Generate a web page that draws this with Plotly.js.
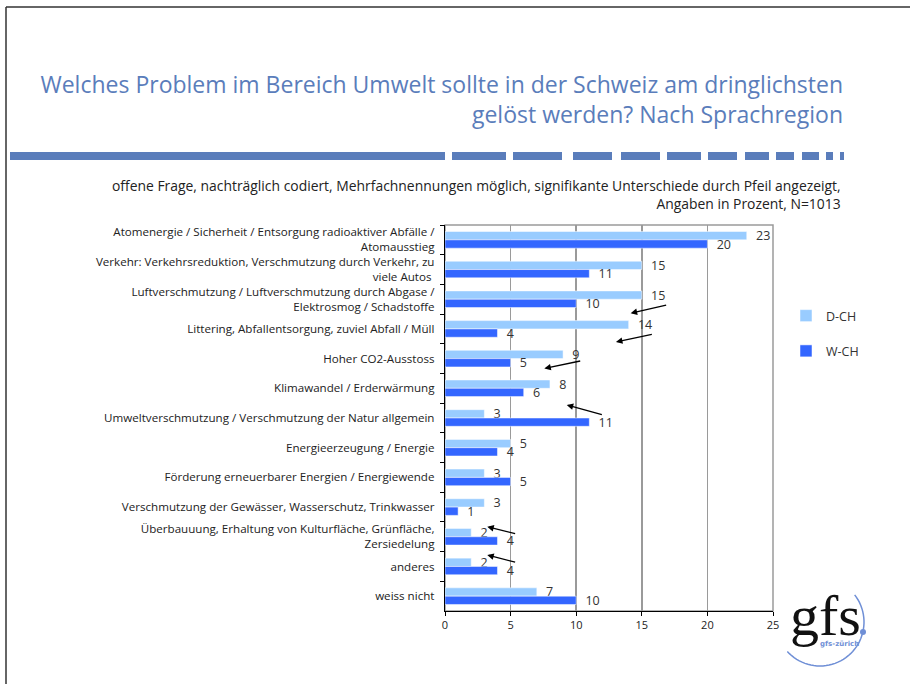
<!DOCTYPE html>
<html>
<head>
<meta charset="utf-8">
<script src="https://cdn.plot.ly/plotly-3.0.1.min.js"></script>
<style>html,body{margin:0;padding:0;background:#fff;}</style>
</head>
<body>
<div id="chart" style="width:910px;height:684px;"></div>
<script>
// ---- data ----
const categories = [
  "Atomenergie / Sicherheit / Entsorgung radioaktiver Abfälle /<br>Atomausstieg",
  "Verkehr: Verkehrsreduktion, Verschmutzung durch Verkehr, zu<br>viele Autos ",
  "Luftverschmutzung / Luftverschmutzung durch Abgase /<br>Elektrosmog / Schadstoffe",
  "Littering, Abfallentsorgung, zuviel Abfall / Müll",
  "Hoher CO2-Ausstoss",
  "Klimawandel / Erderwärmung",
  "Umweltverschmutzung / Verschmutzung der Natur allgemein",
  "Energieerzeugung / Energie",
  "Förderung erneuerbarer Energien / Energiewende",
  "Verschmutzung der Gewässer, Wasserschutz, Trinkwasser",
  "Überbauuung, Erhaltung von Kulturfläche, Grünfläche,<br>Zersiedelung",
  "anderes",
  "weiss nicht"
];
const dch = [23, 15, 15, 14, 9, 8, 3, 5, 3, 3, 2, 2, 7];
const wch = [20, 11, 10, 4, 5, 6, 11, 4, 5, 1, 4, 4, 10];
const xTicks = [0, 5, 10, 15, 20, 25];
// significance arrows: [headX, headCatIndex, tailX, tailCatIndex]
const arrowHeads = [
  [14.15, 2.47, 16.97, 2.19],
  [13.03, 3.44, 15.88, 3.17],
  [7.57, 4.33, 10.42, 4.07],
  [9.28, 5.56, 12.07, 5.90],
  [3.22, 9.66, 5.46, 9.91],
  [3.22, 10.61, 5.46, 10.87]
];

// ---- layout helpers ----
const W = 910, H = 684;
const mL = 445, mR = 137, mT = 225, mB = 73;
const pw = W - mL - mR, ph = H - mT - mB;
const px = x => (x - mL) / pw;
const py = y => (H - mB - y) / ph;

const titleBlue = '#5a7dbb';
const shapes = [];
// slide frame
shapes.push({type:'line', xref:'paper', yref:'paper', x0:px(6), x1:px(6), y0:py(7), y1:py(684), line:{color:'#333', width:1.5}});
shapes.push({type:'line', xref:'paper', yref:'paper', x0:px(6), x1:px(910), y0:py(7), y1:py(7), line:{color:'#333', width:1.5}});
// decorative dashed band
const band = [[10,445],[452,506],[513,562],[573,612],[621,660],[667,701],[708,737],[745,769],[776,794],[802,819],[826,833],[840,844]];
band.forEach(s => shapes.push({type:'rect', xref:'paper', yref:'paper', x0:px(s[0]), x1:px(s[1]), y0:py(160), y1:py(152), line:{width:0}, fillcolor:titleBlue}));
// plot area frame (gray)
shapes.push({type:'rect', xref:'paper', yref:'paper', x0:0, x1:1, y0:0, y1:1, line:{color:'#9a9a9a', width:1.5}, layer:'below'});
// logo arc
let pts = [];
for (let a = 222; a <= 398; a += 4) {
  const r = a * Math.PI / 180;
  const X = 820 + 44 * Math.cos(r), Y = 622 - 44 * Math.sin(r);
  pts.push((pts.length ? 'L' : 'M') + px(X).toFixed(4) + ',' + py(Y).toFixed(4));
}
shapes.push({type:'path', xref:'paper', yref:'paper', path: pts.join(' '), line:{color:'#6f8fd6', width:1.5}});
shapes.push({type:'circle', xref:'paper', yref:'paper', x0:px(860), x1:px(866), y0:py(635), y1:py(629), line:{width:0}, fillcolor:'#6f8fd6'});

const annotations = [];
annotations.push({xref:'paper', yref:'paper', x:px(843), y:py(174), xanchor:'right', yanchor:'top', align:'right', showarrow:false,
  text:'offene Frage, nachträglich codiert, Mehrfachnennungen möglich, signifikante Unterschiede durch Pfeil angezeigt,<br>Angaben in Prozent, N=1013',
  font:{family:'Open Sans, sans-serif', size:13.9, color:'#222'}});
arrowHeads.forEach(a => annotations.push({x:a[0], y:a[1], ax:a[2], ay:a[3], xref:'x', yref:'y', axref:'x', ayref:'y',
  text:'', showarrow:true, arrowhead:2, arrowsize:1, arrowwidth:1.3, arrowcolor:'#000'}));
annotations.push({xref:'paper', yref:'paper', x:px(825), y:py(615), xanchor:'center', yanchor:'middle', showarrow:false,
  text:'gfs', font:{family:'Liberation Serif, serif', size:58, color:'#111'}});
annotations.push({xref:'paper', yref:'paper', x:px(839), y:py(644), xanchor:'center', yanchor:'middle', showarrow:false,
  text:'<b>gfs-zürich</b>', font:{family:'DejaVu Sans, sans-serif', size:7, color:'#6f8fd6'}});

const textFont = {family:'Open Sans, sans-serif', size:12.5, color:'#333'};
const traces = [
  {type:'bar', orientation:'h', name:'D-CH', y:categories, x:dch, texttemplate:'\u2002%{x}', textposition:'outside', constraintext:'none',
   textfont:textFont, cliponaxis:false, marker:{color:'#99ccff', line:{color:'#ffffff', width:0.5}}, legendgroup:'a', hoverinfo:'x+name'},
  {type:'bar', orientation:'h', name:'W-CH', y:categories, x:wch, texttemplate:'\u2002%{x}', textposition:'outside', constraintext:'none',
   textfont:textFont, cliponaxis:false, marker:{color:'#3366ff', line:{color:'#ffffff', width:0.5}}, legendgroup:'b', hoverinfo:'x+name'}
];

const layout = {
  width: W, height: H,
  margin: {l:mL, r:mR, t:mT, b:mB, pad:0},
  paper_bgcolor:'#fff', plot_bgcolor:'#fff',
  title: {text:'Welches Problem im Bereich Umwelt sollte in der Schweiz am dringlichsten<br>gelöst werden? Nach Sprachregion',
    xref:'container', yref:'container', x:843/W, y:1-93/H, xanchor:'right', yanchor:'top', align:'right',
    font:{family:'Open Sans, sans-serif', size:23, color:titleBlue}},
  barmode:'group', bargap:0.44, bargroupgap:0,
  xaxis: {range:[0,25], tickvals:xTicks, ticktext:xTicks.map(String), showgrid:true, gridcolor:'#9a9a9a', gridwidth:1.5,
    zeroline:false, showline:true, linecolor:'#000', linewidth:1.2, ticks:'outside', ticklen:4, tickcolor:'#000',
    tickfont:{family:'Open Sans, sans-serif', size:11, color:'#222'}, fixedrange:true},
  yaxis: {type:'category', autorange:'reversed', showline:true, linecolor:'#000', linewidth:1.2, ticks:'outside', ticklen:4,
    tickcolor:'#000', tickson:'boundaries', showgrid:false, ticklabelstandoff:7,
    tickfont:{family:'Open Sans, sans-serif', size:11.6, color:'#222'}, fixedrange:true},
  showlegend:true,
  legend: {x:px(786), y:py(301), xanchor:'left', yanchor:'top', traceorder:'grouped', tracegroupgap:16,
    font:{family:'Open Sans, sans-serif', size:12.5, color:'#333'}, bgcolor:'rgba(0,0,0,0)', itemwidth:30},
  shapes: shapes,
  annotations: annotations
};

Plotly.newPlot('chart', traces, layout, {displayModeBar:false, staticPlot:true});
</script>
</body>
</html>
